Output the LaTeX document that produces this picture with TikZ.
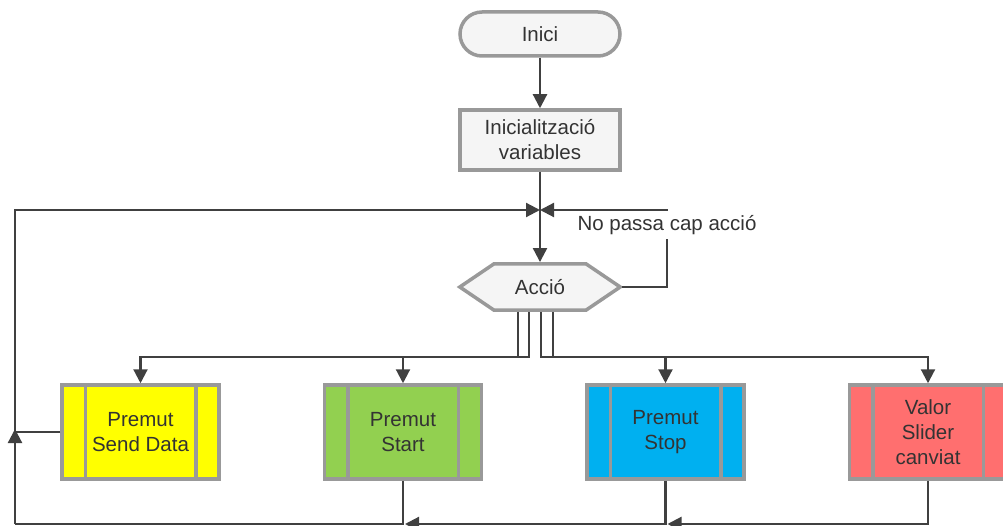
\documentclass[tikz,border=0pt]{standalone}
\usepackage{fontspec}
\setmainfont{Liberation Sans}
\usetikzlibrary{arrows.meta,calc,backgrounds}
\definecolor{lineC}{HTML}{404040}
\definecolor{edgeC}{HTML}{999999}
\definecolor{paleC}{HTML}{F5F5F5}
\definecolor{textC}{HTML}{333333}
\definecolor{sendC}{HTML}{FFFF00}
\definecolor{startC}{HTML}{92D050}
\definecolor{stopC}{HTML}{00B0F0}
\definecolor{sliderC}{HTML}{FF6F6F}
\tikzset{
  base/.style={font=\fontsize{20.5}{25}\selectfont, text=textC, align=center, inner sep=0pt},
  term/.style={base, draw=edgeC, line width=3.5pt, fill=paleC, rounded corners=22pt,
               minimum width=160pt, minimum height=44pt},
  stepbox/.style={base, draw=edgeC, line width=3.5pt, fill=paleC,
               minimum width=160pt, minimum height=60pt},
  proc/.style={base, draw=edgeC, line width=3.5pt, minimum width=157pt, minimum height=94pt},
  flow/.style={draw=lineC, line width=2.2pt, -{Triangle[length=14pt,width=14pt]}},
  link/.style={draw=lineC, line width=2.2pt},
  lbl/.style={base, fill=white, minimum height=28pt, inner xsep=2pt},
}
\newcommand{\procbars}[1]{%
  \draw[edgeC, line width=3.5pt]
    ($(#1.north west)+(25,0)$) -- ($(#1.south west)+(25,0)$)
    ($(#1.north east)+(-25,0)$) -- ($(#1.south east)+(-25,0)$);}
\begin{document}
\begin{tikzpicture}[x=1pt,y=-1pt]
\useasboundingbox (0,0) rectangle (1003,526);

% start and initialisation
\node[term] (inici) at (540,34) {Inici};
\node[stepbox] (init) at (540,140) {Inicialització\\variables};

% decision hexagon
\node[base, minimum width=163.5pt, minimum height=49.5pt] (acc) at (540,287) {Acció};
\begin{scope}[on background layer]
  \draw[edgeC, fill=paleC, line width=3.5pt]
    ($(acc.west)+(1.75,0)$) -- ($(acc.north west)+(36,1.75)$) -- ($(acc.north east)+(-36,1.75)$)
    -- ($(acc.east)+(-1.75,0)$) -- ($(acc.south east)+(-36,-1.75)$) -- ($(acc.south west)+(36,-1.75)$) -- cycle;
\end{scope}

% event handlers
\node[proc, fill=sendC]   (sd)    at (140.5,432) {Premut\\Send Data};
\node[proc, fill=startC]  (start) at (403,432)   {Premut\\Start};
\node[proc, fill=stopC]   (stop)  at (665.5,432) {Premut\\Stop};
\node[proc, fill=sliderC] (val)   at (928,432)   {Valor\\Slider\\canviat};
\procbars{sd}\procbars{start}\procbars{stop}\procbars{val}

% loop junctions
\coordinate (j)  at (540,210);
\coordinate (rc) at (667,210);
\coordinate (lp) at (15,432);
\coordinate (bl) at (15,524);

% main flow
\draw[flow] (inici) -- (init);
\draw[flow] (init) -- (acc);

% branches to the handlers
\draw[flow] ($(acc.south)+(-22,0)$) -- ++(0,45) -| (sd.north);
\draw[flow] ($(acc.south)+(-11,0)$) -- ++(0,45) -| (start.north);
\draw[flow] ($(acc.south)+(1,0)$)   -- ++(0,45) -| (stop.north);
\draw[flow] ($(acc.south)+(13,0)$)  -- ++(0,45) -| (val.north);

% no action: back to the junction
\draw[flow] (acc.east) -| (rc) -- (j);
\node[lbl] (none) at (667,225) {No passa cap acció};

% return path
\draw[flow] (val.south) |- ($(stop.south |- bl)+(2,0)$);
\draw[flow] (stop.south) |- ($(start.south |- bl)+(2,0)$);
\draw[link] (start.south) |- (bl);
\draw[flow] (bl) -- ($(lp)+(0,-3)$);
\draw[link] (sd.west) -- (lp);
\draw[flow] (lp) |- (j);
\end{tikzpicture}
\end{document}
